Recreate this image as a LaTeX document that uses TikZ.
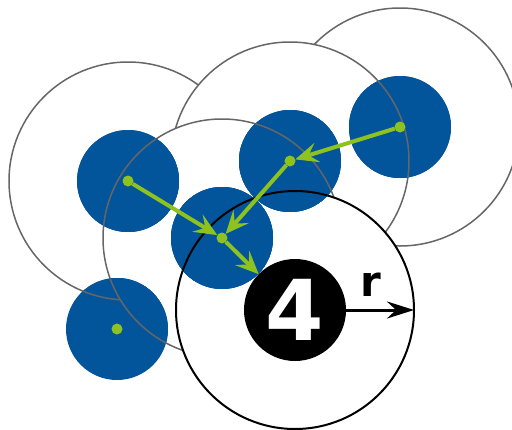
\documentclass[tikz,border=0pt]{standalone}
\usepackage{fontspec}
\setsansfont{DejaVu Sans}
\usetikzlibrary{arrows.meta}
\definecolor{myblue}{HTML}{03559B}
\definecolor{mygreen}{HTML}{8DC21F}
\definecolor{rimgray}{HTML}{666666}
\newcommand\zonestack[1]{%
  \path[fill=#1, draw=rimgray, line width=1.5pt] (128,181) circle[radius=119];
  \path[fill=#1, draw=rimgray, line width=1.5pt] (400,127) circle[radius=119];
  \path[fill=#1, draw=rimgray, line width=1.5pt] (290,161) circle[radius=119];
  \path[fill=#1, draw=rimgray, line width=1.5pt] (222,238) circle[radius=119];
  \path[fill=#1, draw=black, line width=2pt] (295,310) circle[radius=119];
}
\begin{document}
\begin{tikzpicture}[x=1pt,y=-1pt,
  zone/.style={circle, minimum size=238pt, inner sep=0pt, outer sep=0pt, fill=white, draw=rimgray, line width=1.5pt},
  disk/.style={circle, minimum size=102pt, inner sep=0pt, outer sep=0pt, fill=myblue},
  dot/.style={circle, minimum size=11pt, inner sep=0pt, outer sep=0pt, fill=mygreen},
  garrow/.style={draw=mygreen, line width=4pt, -{Stealth[length=23pt, width=20pt, inset=9pt]}},
  rarrow/.style={draw=black, line width=3pt, -{Stealth[length=27pt, width=17pt, inset=9pt]}}
]
\useasboundingbox (0,0) rectangle (512,429);
% coverage zones
\node[zone] (zA) at (128,181) {};
\node[zone] (zC) at (400,127) {};
\node[zone] (zB) at (290,161) {};
\node[zone] (zD) at (222,238) {};
\node[zone, draw=black, line width=2pt] (zE) at (295,310) {};
% blue nodes
\node[disk] (b1) at (128,181) {};
\node[disk] (b2) at (290,161) {};
\node[disk] (b3) at (400,127) {};
\node[disk] (b4) at (222,238) {};
\node[disk] (b5) at (117,329) {};
% zone outlines seen across the blue nodes
\foreach \c in {(128,181),(290,161),(400,127),(222,238),(117,329)}{
  \begin{scope}
    \clip \c circle[radius=51];
    \zonestack{myblue}
  \end{scope}
}
% target node
\node[circle, minimum size=102pt, inner sep=0pt, outer sep=0pt, fill=black, text=white,
  font=\fontsize{84}{84}\selectfont\sffamily\bfseries] (four) at (295,310) {4};
\node[font=\fontsize{42}{42}\selectfont\sffamily\bfseries, inner sep=0pt] (rlab) at (371,285) {r};
\coordinate (redge) at (414,310);
\draw[rarrow] (four) -- (redge);
% green dots and hops
\node[dot] (d1) at (128,181) {};
\node[dot] (d2) at (290,161) {};
\node[dot] (d3) at (400,127) {};
\node[dot] (d4) at (222,238) {};
\node[dot] (d5) at (117,329) {};
\draw[garrow] (d3) -- (d2);
\draw[garrow] (d2) -- (d4);
\draw[garrow] (d1) -- (d4);
\draw[garrow] (d4) -- (four);
\end{tikzpicture}
\end{document}
